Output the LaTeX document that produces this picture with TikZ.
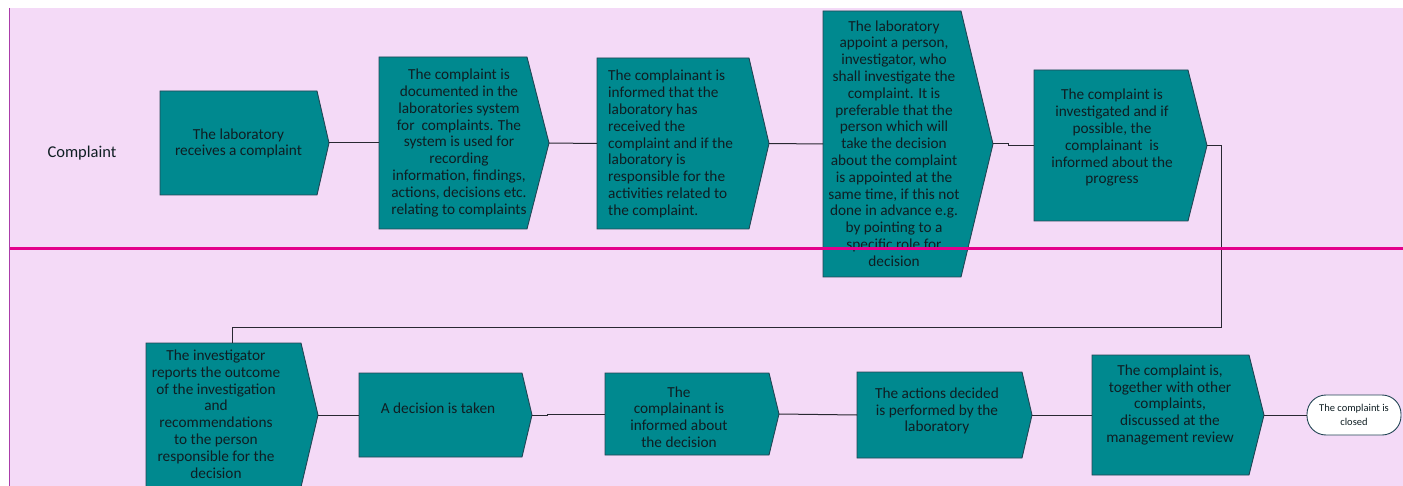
\documentclass[tikz,border=0pt]{standalone}
\usepackage{fontspec}
\setmainfont{Carlito}
\definecolor{lanepink}{RGB}{244,218,247}
\definecolor{laneborder}{RGB}{170,60,170}
\definecolor{divider}{RGB}{228,0,140}
\definecolor{boxteal}{RGB}{0,137,143}
\definecolor{boxedge}{RGB}{35,70,85}
\definecolor{txtdark}{RGB}{15,30,35}
\definecolor{conn}{RGB}{40,40,50}
\tikzset{
  boxshape/.style={fill=boxteal, draw=boxedge, line width=0.9pt},
  boxtext/.style={font=\fontsize{15.3}{16.8}\selectfont, text=txtdark, align=center, inner sep=0pt},
  connector/.style={draw=conn, line width=1pt},
  lanelabel/.style={font=\fontsize{16.5}{19}\selectfont, text=txtdark, inner sep=0pt},
  endterm/.style={draw=boxedge, fill=white, line width=0.9pt, rounded corners=19pt,
    minimum width=94pt, minimum height=40pt, inner sep=0pt, align=center,
    font=\fontsize{10.5}{13.7}\selectfont, text=txtdark},
}
\newcommand\stepshape[6]{%
  \path[boxshape] (#2,#3) -- (#4,#3) -- (#5,{(#3+#6)/2}) -- (#4,#6) -- (#2,#6) -- cycle;
  \coordinate (#1tip) at (#5,{(#3+#6)/2});
  \coordinate (#1in) at (#2,{(#3+#6)/2});
}
\begin{document}
\begin{tikzpicture}[x=1pt,y=-1pt]
\useasboundingbox (0,0) rectangle (1403,486);
\begin{scope}
\clip (0,0) rectangle (1403,486);
% lane background
\fill[lanepink] (9,8) rectangle (1403,486);
\draw[laneborder, line width=1pt] (9.5,8) -- (9.5,486);
\node[lanelabel] (lane) at (82,153) {Complaint};
% shapes
\stepshape{b1}{160}{91}{317}{329}{195}
\stepshape{b2}{379}{57}{527}{549}{229}
\stepshape{b3}{597}{58}{749}{769}{229}
\stepshape{b4}{823}{11}{961}{993}{277}
\stepshape{b5}{1034}{70}{1188}{1207}{221}
\stepshape{b6}{146}{343}{301}{318}{487}
\stepshape{b7}{359}{373}{522}{532}{457}
\stepshape{b8}{605}{373}{769}{779}{455}
\stepshape{b9}{857}{372}{1022}{1032}{458}
\stepshape{b10}{1092}{355}{1249}{1264}{475}
\node[endterm] (end) at (1354,415) {The complaint is\\closed};
% connectors
\coordinate (loopR) at (1221,328);
\coordinate (loopL) at (232,328);
\coordinate (b6top) at (232,343);
\draw[connector] (b1tip) -- (b2in);
\draw[connector] (b2tip) -- (b3in);
\draw[connector] (b3tip) -- (b4in);
\draw[connector] (b4tip) -- ++(15,0) |- (b5in);
\draw[connector] (b5tip) -| (loopR) -- (loopL) -- (b6top);
\draw[connector] (b6tip) -- (b7in);
\draw[connector] (b7tip) -- ++(15,0) |- (b8in);
\draw[connector] (b8tip) -- (b9in);
\draw[connector] (b9tip) -- (b10in);
\draw[connector] (b10tip) -- (end.west);
% texts
\node[boxtext] (t1) at (238.5,143.5) {The laboratory\\receives a complaint};
\node[boxtext] (t2) at (459,143) {The complaint is\\documented in the\\laboratories system\\for \ complaints. The\\system is used for\\recording\\information, findings,\\actions, decisions etc.\\relating to complaints};
\node[boxtext, align=left, anchor=west] (t3) at (608,144) {The complainant is\\informed that the\\laboratory has\\received the\\complaint and if the\\laboratory is\\responsible for the\\activities related to\\the complaint.};
\node[boxtext] (t4) at (894,143.5) {The laboratory\\appoint a person,\\investigator, who\\shall investigate the\\complaint. It is\\preferable that the\\person which will\\take the decision\\about the complaint\\is appointed at the\\same time, if this not\\done in advance e.g.\\by pointing to a\\specific role for\\decision};
\node[boxtext] (t5) at (1112,138) {The complaint is\\investigated and if\\possible, the\\complainant \ is\\informed about the\\progress};
\node[boxtext] (t6) at (216,414) {The investigator\\reports the outcome\\of the investigation\\and\\recommendations\\to the person\\responsible for the\\decision};
\node[boxtext] (t7) at (438,408) {A decision is taken};
\node[boxtext] (t8) at (679,417) {The\\complainant is\\informed about\\the decision};
\node[boxtext] (t9) at (937,411) {The actions decided\\is performed by the\\laboratory};
\node[boxtext] (t10) at (1170,405) {The complaint is,\\together with other\\complaints,\\discussed at the\\management review};
% divider
\draw[divider, line width=3pt] (10,248.5) -- (1403,248.5);
\end{scope}
\end{tikzpicture}
\end{document}
